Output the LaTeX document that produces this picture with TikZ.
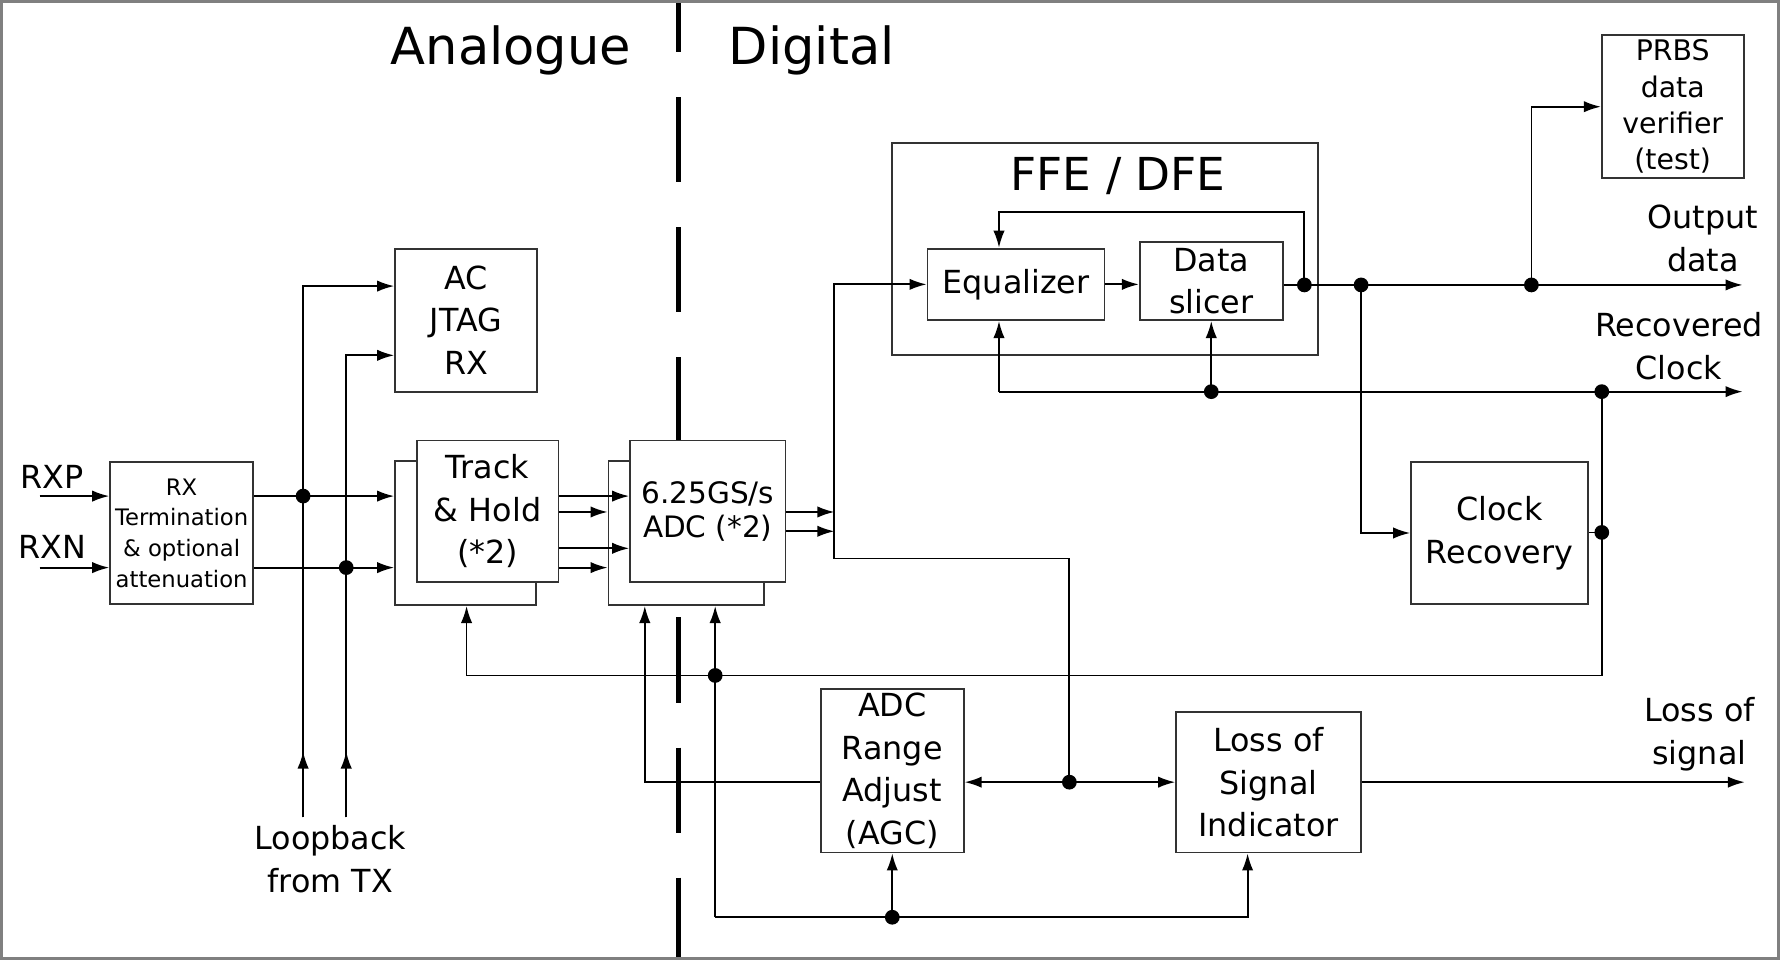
\documentclass[tikz,border=0pt]{standalone}
\usepackage{fontspec}
\setmainfont{DejaVu Sans}
\usetikzlibrary{arrows.meta}
\newcommand{\blkfont}{\fontsize{28}{37.5}\selectfont}
\newcommand{\rxfont}{\fontsize{20}{27}\selectfont}
\newcommand{\prbsfont}{\fontsize{25}{32}\selectfont}
\newcommand{\adcfont}{\fontsize{26}{30}\selectfont}
\newcommand{\ffefont}{\fontsize{40}{45}\selectfont}
\newcommand{\sidefont}{\fontsize{45}{50}\selectfont}
\tikzstyle{blk}=[rectangle,draw=black!80,line width=1.6pt,fill=white,inner sep=0pt,align=center,font=\blkfont]
\tikzstyle{wire}=[line width=1.6pt]
\tikzstyle{sig}=[wire,-{Latex[length=15pt,width=10pt]}]
\tikzstyle{jdot}=[circle,fill=black,inner sep=0pt,minimum size=13pt]
\tikzstyle{lbl}=[align=center,font=\blkfont,inner sep=0pt]

\begin{document}
\begin{tikzpicture}[x=1pt,y=-1pt]
\useasboundingbox (0,0) rectangle (1568,846);
% analogue / digital split
\draw[line width=4.5pt,dash pattern=on 75pt off 39.6pt,dash phase=29.1pt] (598,0) -- (598,846);
\draw[black!50,line width=3pt] (1.5,1.5) rectangle (1566.5,844.5);
\node[font=\sidefont,anchor=base] (ana) at (450,57) {Analogue};
\node[font=\sidefont,anchor=base] (dig) at (715,57) {Digital};

% blocks
\node[blk,minimum width=126,minimum height=125,font=\rxfont] (rx) at (160,469.5) {RX\\Termination\\\& optional\\attenuation};
\node[blk,minimum width=125,minimum height=126] (jtag) at (410.5,282) {AC\\JTAG\\RX};
\node[blk,minimum width=124,minimum height=127] (thb) at (410,469.5) {};
\node[blk,minimum width=125,minimum height=125] (th) at (429.5,450.5) {Track\\\& Hold\\(*2)};
\node[blk,minimum width=137,minimum height=127] (adcb) at (604.5,469.5) {};
\node[blk,minimum width=137,minimum height=125,font=\adcfont] (adc) at (623.5,450.5) {6.25GS/s\\ADC (*2)};
\node[blk,minimum width=126,minimum height=144] (agc) at (786,679) {ADC\\Range\\Adjust\\(AGC)};
\node[blk,minimum width=163,minimum height=124] (los) at (1117.5,689) {Loss of\\Signal\\Indicator};
\node[blk,minimum width=156,minimum height=125] (cdr) at (1321,469.5) {Clock\\Recovery};
\node[blk,minimum width=375,minimum height=187] (ffe) at (973.5,219.5) {};
\node[font=\ffefont] (ffet) at (985,155) {FFE / DFE};
\node[blk,minimum width=156,minimum height=63] (eq) at (895,250.5) {Equalizer};
\node[blk,minimum width=126,minimum height=69] (ds) at (1067,247.5) {Data\\slicer};
\node[blk,minimum width=125,minimum height=126,font=\prbsfont] (prbs) at (1473.5,94) {PRBS\\data\\verifier\\(test)};

% labels
\node[lbl,anchor=base] (rxp) at (46,430) {RXP};
\node[lbl,anchor=base] (rxn) at (46,492) {RXN};
\node[lbl] (loop) at (291,757) {Loopback\\from TX};
\node[lbl] (odat) at (1500,210) {Output\\data};
\node[lbl] (rclk) at (1479,305) {Recovered\\Clock};
\node[lbl] (lsig) at (1497,647) {Loss of\\signal};

% junctions
\node[jdot] (d1) at (267,437) {};
\node[jdot] (d2) at (305,500) {};
\node[jdot] (d3) at (942,689) {};
\node[jdot] (d4) at (630,595) {};
\node[jdot] (d5) at (786,808) {};
\node[jdot] (d6) at (1067,345) {};
\node[jdot] (d7) at (1411,345) {};
\node[jdot] (d8) at (1411,469) {};
\node[jdot] (d9) at (1149,251) {};
\node[jdot] (d10) at (1199,251) {};
\node[jdot] (d11) at (1349,251) {};

\coordinate (rxpin) at (35,437);
\coordinate (rxnin) at (35,500);
\coordinate (lb1) at (267,720);
\coordinate (lb2) at (305,720);
\coordinate (adcout1) at (735,451);
\coordinate (adcout2) at (735,468);
\coordinate (bus) at (735,492);
\coordinate (agcl) at (568,689);
\coordinate (bot) at (630,808);
\coordinate (losin) at (1099,808);
\coordinate (thclk) at (411,595);
\coordinate (ck) at (880,345);
\coordinate (ckout) at (1535,345);
\coordinate (fb) at (880,187);
\coordinate (dout) at (1535,251);
\coordinate (losout) at (1537,689);

% analogue side
\draw[sig] (rxpin) -- (rxpin -| rx.west);
\draw[sig] (rxnin) -- (rxnin -| rx.west);
\draw[sig] (rx.east |- d1) -- (d1 -| thb.west);
\draw[sig] (rx.east |- d2) -- (d2 -| thb.west);
\draw[sig] (lb1) -- ++(0,-58);
\draw[sig] (lb2) -- ++(0,-58);
\draw[sig] (lb1) |- (jtag.west |- 0,252);
\draw[sig] (lb2) |- (jtag.west |- 0,313);
\draw[sig] (th.east |- 0,437) -- (adc.west |- 0,437);
\draw[sig] (th.east |- 0,451) -- (adcb.west |- 0,451);
\draw[sig] (th.east |- 0,483) -- (adc.west |- 0,483);
\draw[sig] (th.east |- 0,500) -- (adcb.west |- 0,500);

% digital side
\draw[sig] (adc.east |- adcout1) -- (adcout1);
\draw[sig] (adc.east |- adcout2) -- (adcout2);
\draw[sig] (adcout2) -- (adcout2 |- eq.west) -- (eq.west);
\draw[wire] (adcout2) -- (bus) -| (d3.center);
\draw[sig] (d3.center) -- (agc.east |- d3);
\draw[sig] (d3.center) -- (los.west |- d3);
\draw[sig] (los.east) -- (losout);
\draw[sig] (agc.west |- agcl) -- (agcl) -- (agcl |- adcb.south);
\draw[sig] (bot) -- (bot |- adcb.south);
\draw[sig] (bot) -- (losin) -- (losin |- los.south);
\draw[sig] (d5.center) -- (agc.south);
\draw[sig] (d7.center) -- (d7 |- thclk) -- (thclk) -- (thclk |- thb.south);
\draw[wire] (cdr.east |- d8) -- (d8.center);
\draw[sig] (ck) -- (ckout);
\draw[sig] (ck) -- (ck |- eq.south);
\draw[sig] (d6.center) -- (ds.south);
\draw[sig] (eq.east) -- (eq.east -| ds.west);
\draw[sig] (ds.east |- d9) -- (dout);
\draw[sig] (d9.center) -- (d9 |- fb) -- (fb) -- (fb |- eq.north);
\draw[sig] (d10.center) -- (d10 |- cdr.west) -- (cdr.west);
\draw[sig] (d11.center) -- (d11 |- prbs.west) -- (prbs.west);
\end{tikzpicture}
\end{document}
